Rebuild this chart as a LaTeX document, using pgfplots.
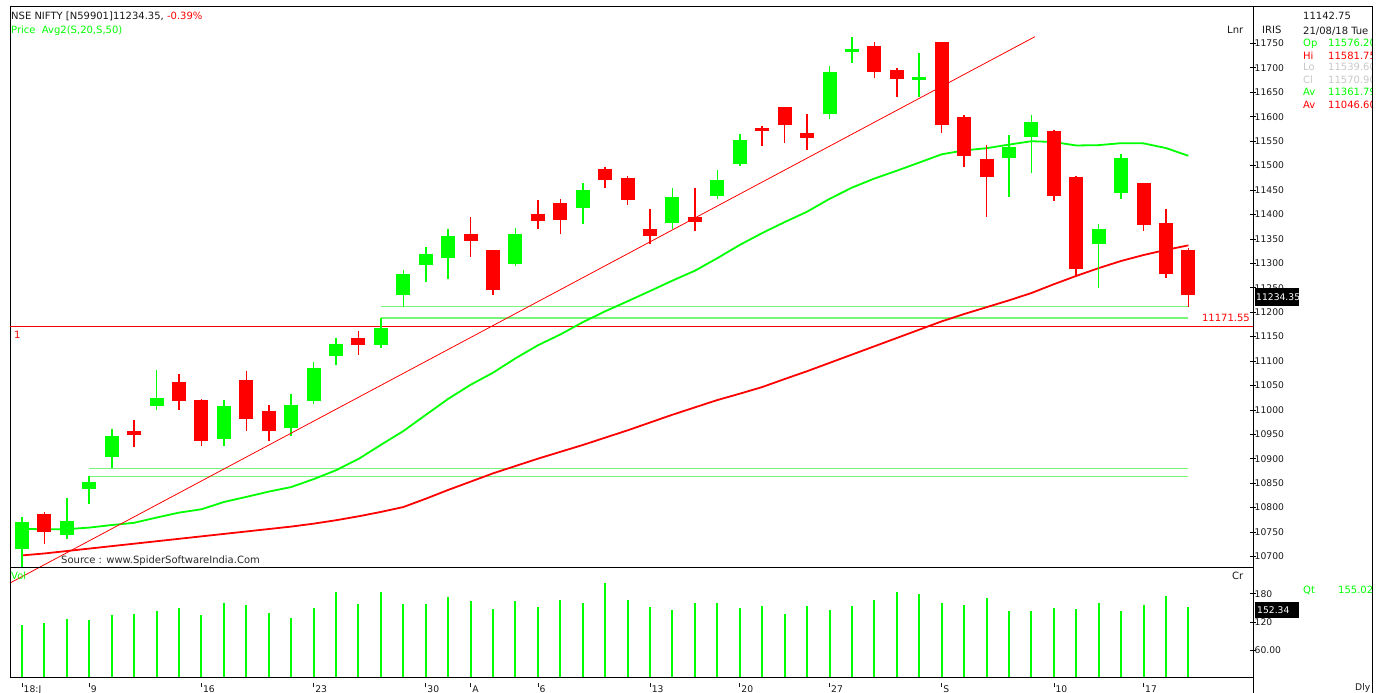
\documentclass[border=0pt]{standalone}
\usepackage{pgfplots}
\usepackage{pgfplotstable}
\pgfplotsset{compat=1.18}
\usepackage{fontspec}
\setmainfont{DejaVu Sans}
\definecolor{cg}{RGB}{0,255,0}
\definecolor{cr}{RGB}{255,0,0}
\definecolor{hg}{RGB}{120,245,120}
\definecolor{lgray}{RGB}{200,200,200}
\definecolor{txt}{RGB}{25,25,25}

% green candles: index, open, high, low, close
\pgfplotstableread{
k o h l c
1 10715.00 10781.00 10679.00 10769.90
3 10744.00 10820.00 10735.00 10772.65
4 10838.30 10864.00 10807.00 10852.90
5 10902.70 10960.00 10880.00 10947.25
7 11006.95 11082.00 10999.65 11023.20
10 10939.70 11021.00 10926.00 11008.05
13 10963.00 11033.00 10946.20 11010.20
14 11018.90 11097.00 11010.95 11084.75
15 11109.70 11148.00 11092.50 11134.30
17 11132.95 11188.00 11125.70 11167.30
18 11234.00 11286.00 11211.00 11278.35
19 11296.00 11333.00 11262.00 11319.55
20 11311.00 11370.00 11267.75 11356.50
23 11297.80 11372.00 11294.30 11360.80
26 11412.50 11464.00 11381.00 11450.00
30 11381.70 11453.00 11370.80 11435.10
32 11437.15 11490.00 11431.65 11470.70
33 11502.10 11565.30 11499.85 11551.75
37 11605.85 11703.00 11595.60 11691.95
38 11731.95 11763.00 11710.50 11738.50
41 11675.85 11730.00 11640.10 11680.50
45 11514.85 11562.25 11436.05 11536.90
46 11558.25 11603.00 11484.40 11589.10
49 11340.10 11380.75 11250.20 11369.90
50 11443.50 11523.25 11430.55 11515.20
}\greenC

% red candles
\pgfplotstableread{
k o h l c
2 10786.00 10790.00 10726.00 10749.75
6 10956.40 10980.00 10924.00 10948.30
8 11056.90 11074.00 10999.75 11018.90
9 11019.50 11022.00 10926.00 10936.85
11 11060.20 11080.00 10956.30 10980.45
12 10997.40 11010.00 10935.45 10957.10
16 11146.10 11160.40 11112.70 11132.00
21 11359.80 11394.00 11313.45 11346.20
22 11328.10 11328.10 11234.95 11244.70
24 11401.50 11430.00 11370.60 11387.10
25 11423.15 11432.00 11359.70 11389.45
27 11493.25 11497.00 11454.10 11470.75
28 11474.95 11478.75 11419.65 11429.50
29 11369.60 11411.00 11340.30 11355.75
31 11393.90 11453.00 11366.00 11385.05
34 11576.20 11581.75 11539.60 11570.90
35 11620.70 11620.70 11546.70 11582.75
36 11566.60 11604.60 11532.00 11557.10
39 11744.10 11753.20 11678.85 11691.90
40 11694.75 11698.80 11639.70 11676.80
42 11751.80 11751.80 11567.40 11582.35
43 11598.75 11602.55 11496.85 11520.30
44 11514.15 11542.65 11393.85 11476.95
47 11570.20 11573.00 11427.30 11438.10
48 11476.85 11479.40 11274.00 11287.50
51 11464.95 11464.95 11366.90 11377.75
52 11381.55 11411.45 11268.95 11278.90
53 11326.65 11332.05 11210.90 11234.35
}\redC

% 20-day average
\pgfplotstableread{
k v
1 10756.35
2 10755.42
3 10755.67
4 10758.97
5 10764.19
6 10768.77
7 10779.53
8 10789.59
9 10796.44
10 10811.32
11 10821.74
12 10832.54
13 10841.96
14 10858.07
15 10876.33
16 10899.36
17 10928.27
18 10956.47
19 10989.58
20 11022.41
21 11051.23
22 11075.98
23 11105.38
24 11132.09
25 11154.20
26 11179.29
27 11201.67
28 11222.20
29 11243.14
30 11264.49
31 11284.72
32 11310.40
33 11337.48
34 11361.79
35 11384.21
36 11405.47
37 11431.70
38 11454.71
39 11473.32
40 11489.34
41 11506.05
42 11522.94
43 11530.91
44 11535.40
45 11542.78
46 11549.73
47 11548.10
48 11541.00
49 11541.71
50 11545.71
51 11545.35
52 11535.76
53 11519.89
}\smaA

% 50-day average
\pgfplotstableread{
k v
1 10702
2 10706
3 10711
4 10716
5 10721
6 10726
7 10731
8 10736
9 10741
10 10746
11 10751
12 10756
13 10761
14 10767
15 10774
16 10782
17 10791
18 10801
19 10818
20 10836
21 10853
22 10870
23 10885
24 10900
25 10914
26 10928
27 10943
28 10958
29 10974
30 10990
31 11005
32 11020
33 11033
34 11046.6
35 11063
36 11079
37 11096
38 11113
39 11130
40 11147
41 11164
42 11181
43 11196
44 11210
45 11224
46 11239
47 11257
48 11274
49 11290
50 11304.64
51 11316.79
52 11327.38
53 11336.61
}\smaB

% volume (Cr)
\pgfplotstableread{
k v
1 113.8
2 118.1
3 127.2
4 125.1
5 135.0
6 137.1
7 143.5
8 150.4
9 135.0
10 160.4
11 156.8
12 139.2
13 129.3
14 149.2
15 184.3
16 158.9
17 184.3
18 158.9
19 158.9
20 172.5
21 164.6
22 147.7
23 164.6
24 151.3
25 166.7
26 161.0
27 202.1
28 166.7
29 151.3
30 145.6
31 161.0
32 161.0
33 149.8
34 155.02
35 137.8
36 153.4
37 145.6
38 153.4
39 166.7
40 184.3
41 179.4
42 161.0
43 156.8
44 171.0
45 143.5
46 143.5
47 149.8
48 147.7
49 161.0
50 143.5
51 155.5
52 175.2
53 152.34
}\vol

\newcommand{\tf}{\fontsize{10}{11}\selectfont}
\newcommand{\tickf}{\fontsize{9.2}{10}\selectfont}
\newcommand{\tk}{\rule[5.5pt]{1pt}{4.3pt}\hspace{1pt}}

\pgfplotsset{
  chartbase/.style={
    anchor=south west, scale only axis, width=1243pt,
    xmin=0.465, xmax=55.88,
    axis line style={line width=0.8pt, black},
    ytick pos=right, yticklabel pos=right,
    tick align=center, major tick length=6pt,
    ytick style={black, line width=0.6pt},
    yticklabel style={font=\tickf, text=txt, anchor=west, inner sep=0pt, xshift=-1.5pt},
    scaled y ticks=false,
    /pgf/number format/assume math mode=true,
    /pgf/number format/1000 sep={},
  },
  candle/.style={only marks, mark=*, mark size=0.01pt,
    mark options={draw opacity=0, fill opacity=0}},
}

\begin{document}
\begin{tikzpicture}
% main price panel
\begin{axis}[chartbase,
  at={(10pt,126pt)}, height=561pt,
  ymin=10678.3, ymax=11826.5,
  clip=false,
  xtick=\empty,
  ytick={10700,10750,10800,10850,10900,10950,11000,11050,11100,11150,11200,11250,11300,11350,11400,11450,11500,11550,11600,11650,11700,11750},
  yticklabel style={/pgf/number format/fixed, /pgf/number format/precision=0},
]
% support lines
\addplot[hg, line width=1.4pt] coordinates {(17,11211) (53,11211)};
\addplot[hg, line width=1.4pt] coordinates {(17,11188) (53,11188)};
\addplot[hg, line width=1.4pt] coordinates {(4,10880) (53,10880)};
\addplot[hg, line width=1.4pt] coordinates {(4,10864) (53,10864)};
\addplot[cr, line width=0.8pt] coordinates {(0.465,11171.55) (55.88,11171.55)};
% moving averages
\addplot[cr, line width=1.8pt, mark=none] table[x=k, y=v] \smaB;
\addplot[cg, line width=1.8pt, mark=none] table[x=k, y=v] \smaA;
% wicks
\addplot[cg, candle,
  error bars/.cd, y dir=minus, y explicit, error mark=none,
  error bar style={line width=1.6pt, cg}]
  table[x=k, y=h, y error expr={\thisrow{h}-\thisrow{l}}] \greenC;
\addplot[cr, candle,
  error bars/.cd, y dir=minus, y explicit, error mark=none,
  error bar style={line width=1.6pt, cr}]
  table[x=k, y=h, y error expr={\thisrow{h}-\thisrow{l}}] \redC;
% bodies
\addplot[cg, candle,
  error bars/.cd, y dir=minus, y explicit, error mark=none,
  error bar style={line width=14pt, cg}]
  table[x=k, y=c, y error expr={\thisrow{c}-\thisrow{o}}] \greenC;
\addplot[cr, candle,
  error bars/.cd, y dir=minus, y explicit, error mark=none,
  error bar style={line width=14pt, cr}]
  table[x=k, y=o, y error expr={\thisrow{o}-\thisrow{c}}] \redC;
% trend line
\addplot[cr, line width=0.8pt] coordinates {(0.465,10645.5) (46.16,11763.7)};
\end{axis}

% volume panel
\begin{axis}[chartbase,
  at={(10pt,16pt)}, height=110pt,
  ymin=3.8, ymax=236.6,
  ytick={60,120,180}, yticklabels={60.00,120,180},
  xtick={1,4,9,14,19,21,24,29,33,37,42,47,51},
  xticklabels={{\tk 18:J},{\tk 9},{\tk 16},{\tk 23},{\tk 30},{\tk A},{\tk 6},{\tk 13},{\tk 20},{\tk 27},{\tk S},{\tk 10},{\tk 17}},
  xtick pos=bottom, xtick style={draw=none},
  xticklabel style={font=\tickf, text=txt, anchor=base west, inner sep=0pt, xshift=-0.5pt, yshift=-12.8pt},
]
\addplot[ycomb, cg, line width=2pt, mark=none] table[x=k, y=v] \vol;
\end{axis}

% frame of the right-hand panel
\draw[black, line width=0.8pt] (1253pt,0pt) -- (1253pt,687pt);
\draw[black, line width=0.8pt] (1253pt,687pt) -- (1372pt,687pt) -- (1372pt,0pt);

% texts
\begin{scope}[every node/.style={inner sep=0pt, font=\tf, text=txt}]
\node[anchor=base west] at (11pt,673.5pt) {NSE NIFTY [N59901]11234.35, \textcolor{cr}{-0.39\%}};
\node[anchor=base west, text=cg] at (11pt,659.3pt) {Price\ \ Avg2(S,20,S,50)};
\node[anchor=base west] at (1227pt,659.6pt) {Lnr};
\node[anchor=base west] at (1262pt,659.6pt) {IRIS};
\node[anchor=base west] at (1303pt,673.3pt) {11142.75};
\node[anchor=base west] at (1303pt,658.3pt) {21/08/18 Tue};
\node[anchor=base west, text=cg] at (1303pt,646.3pt) {Op};
\node[anchor=base west, text=cr] at (1303pt,633.9pt) {Hi};
\node[anchor=base west, text=lgray] at (1303pt,622pt) {Lo};
\node[anchor=base west, text=lgray] at (1303pt,609.6pt) {Cl};
\node[anchor=base west, text=cg] at (1303pt,597.2pt) {Av};
\node[anchor=base west, text=cr] at (1303pt,584.8pt) {Av};
\node[anchor=base east, text=cr] at (1250pt,371.3pt) {11171.55};
\node[anchor=base west, text=cr] at (14pt,354.5pt) {1};
\node[anchor=base west, text={rgb,255:red,40;green,40;blue,40}] at (61pt,129.7pt) {Source : www.SpiderSoftwareIndia.Com};
\node[anchor=base west, text=cg] at (11pt,113.5pt) {Vol};
\node[anchor=base west] at (1232pt,113.5pt) {Cr};
\node[anchor=base west, text=cg] at (1303pt,99.7pt) {Qt};
\node[anchor=base west, text=cg] at (1338pt,99.7pt) {155.02};
\node[anchor=base west, font=\tickf] at (1355pt,2.2pt) {Dly};
\end{scope}
% info values, cut at the panel border as in the original
\begin{scope}
\clip (1320pt,570pt) rectangle (1371.6pt,660pt);
\begin{scope}[every node/.style={inner sep=0pt, font=\tf, anchor=base west}]
\node[text=cg] at (1328pt,646.3pt) {11576.20};
\node[text=cr] at (1328pt,633.9pt) {11581.75};
\node[text=lgray] at (1328pt,622pt) {11539.60};
\node[text=lgray] at (1328pt,609.6pt) {11570.90};
\node[text=cg] at (1328pt,597.2pt) {11361.79};
\node[text=cr] at (1328pt,584.8pt) {11046.60};
\end{scope}
\end{scope}
% value boxes
\fill[black] (1255pt,387.3pt) rectangle (1299pt,404.7pt);
\node[anchor=base west, inner sep=0pt, font=\tickf, text=white] at (1256pt,392.7pt) {11234.35};
\fill[black] (1255pt,74.7pt) rectangle (1299pt,91.3pt);
\node[anchor=base west, inner sep=0pt, font=\tickf, text=white] at (1257pt,79.7pt) {152.34};

\pgfresetboundingbox
\useasboundingbox (0pt,0pt) rectangle (1386pt,693pt);
\end{tikzpicture}
\end{document}
